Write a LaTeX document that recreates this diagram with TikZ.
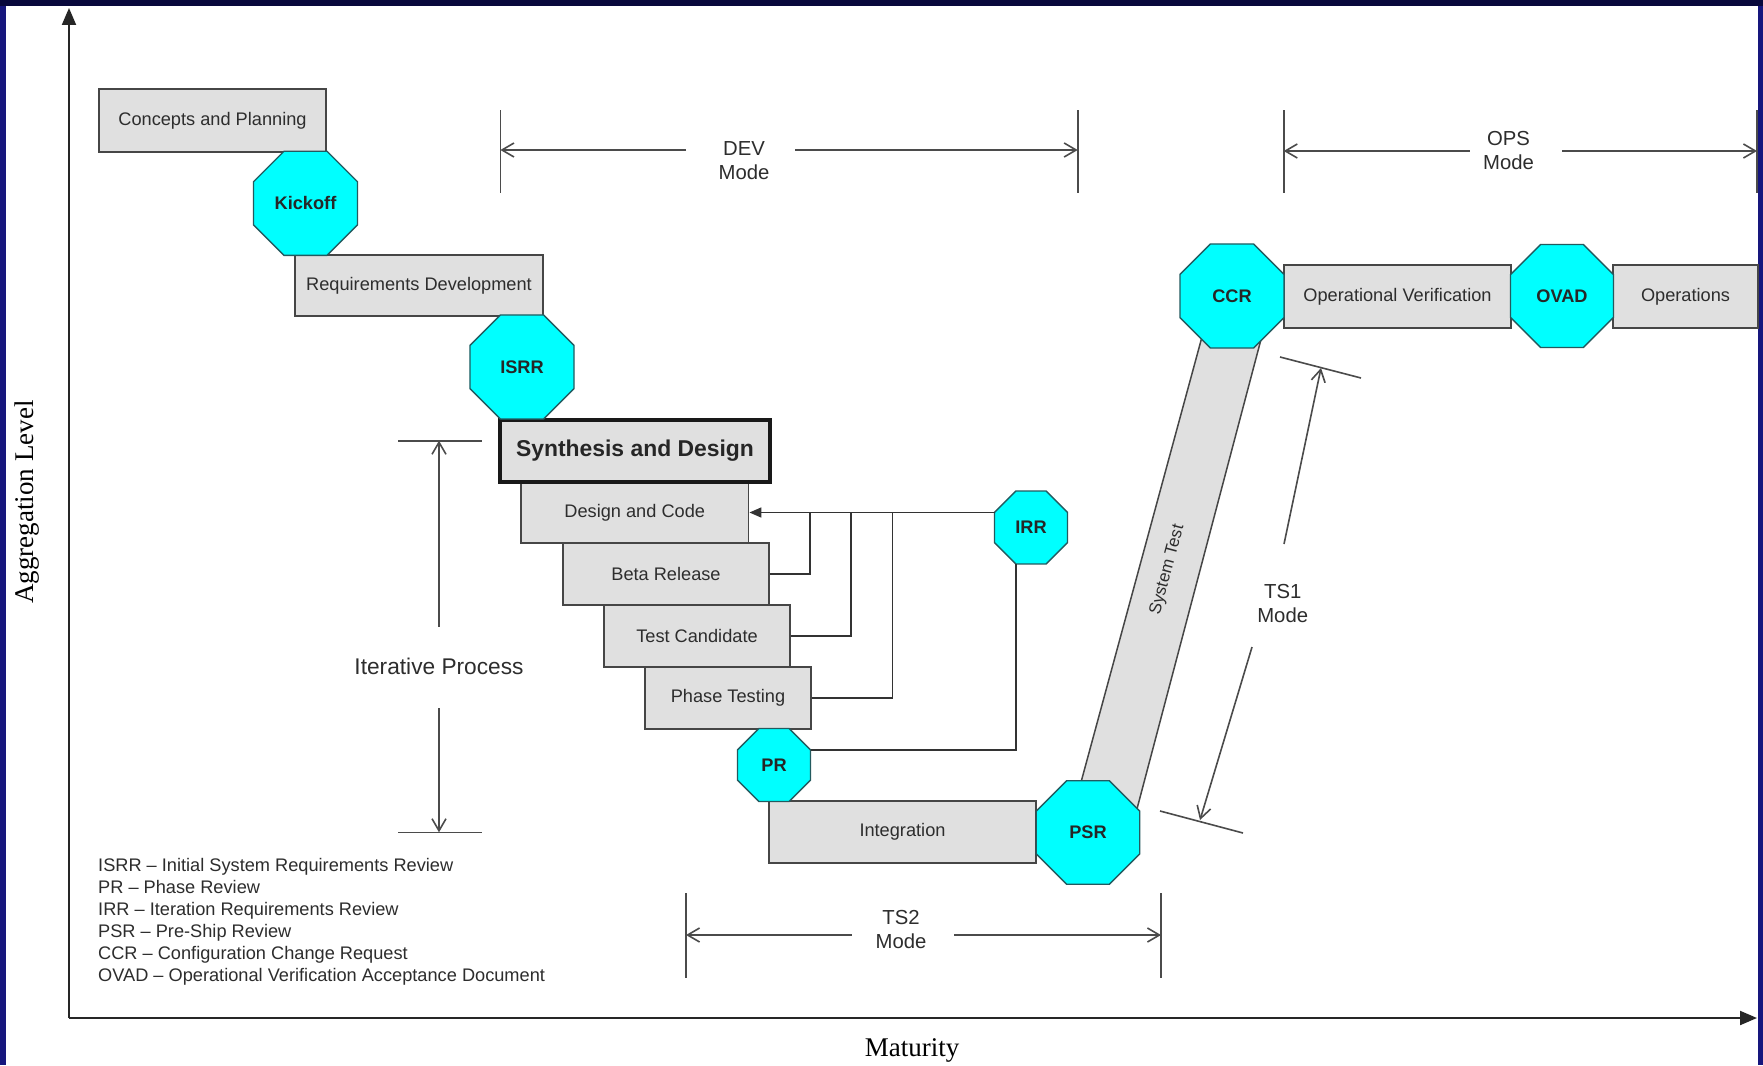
\documentclass[tikz,border=0pt]{standalone}
\usepackage{fontspec}
\setmainfont{Liberation Sans}
\newfontfamily\seriffam{Liberation Serif}
\usetikzlibrary{arrows.meta,shapes.geometric,calc}

\definecolor{navy}{RGB}{22,22,125}
\definecolor{navytop}{RGB}{8,8,60}
\definecolor{boxfill}{RGB}{224,224,224}
\definecolor{boxline}{RGB}{70,70,70}
\definecolor{octfill}{RGB}{0,255,255}
\definecolor{octline}{RGB}{35,90,95}
\definecolor{txt}{RGB}{45,45,45}
\definecolor{dimline}{RGB}{75,75,75}

\begin{document}
\begin{tikzpicture}[x=1pt,y=-1pt,
  box/.style={draw=boxline,line width=1.8pt,fill=boxfill,inner sep=0pt,text=txt,
    font=\fontsize{18.2}{22}\selectfont},
  oct/.style={regular polygon,regular polygon sides=8,draw=octline,line width=1.4pt,
    fill=octfill,inner sep=0pt,outer sep=0pt,text=black!85,font=\bfseries\fontsize{18.2}{22}\selectfont},
  dim/.style={draw=dimline,line width=1.6pt},
  dimarr/.style={dim,-{Straight Barb[length=12pt,width=14pt]}},
  lbl/.style={align=center,text=txt,font=\fontsize{20.3}{24}\selectfont,inner sep=0pt},
  conn/.style={draw=black!80,line width=1.5pt},
  axis/.style={draw=black!85,line width=2pt,-{Triangle[length=17pt,width=14pt]}},
]
\useasboundingbox (0,0) rectangle (1763,1065);
% frame
\fill[navy] (0,0) rectangle (1763,1065);
\fill[navytop] (0,0) rectangle (1763,6);
\fill[white] (6,6) rectangle (1758,1065);

% axes
\coordinate (origin) at (69,1018);
\coordinate (ytop) at (69,8);
\coordinate (xend) at (1757,1018);
\draw[axis] (origin) -- (ytop);
\draw[axis] (origin) -- (xend);
\node[font=\seriffam\fontsize{27}{30}\selectfont,rotate=90] (ylab) at (27,502) {Aggregation Level};
\node[font=\seriffam\fontsize{27}{30}\selectfont] (xlab) at (912,1050) {Maturity};

% system test strip
\path[draw=boxline,line width=1.5pt,fill=boxfill] (1212,300) -- (1271.4,300) -- (1131.4,830) -- (1068,830) -- cycle;
\node[rotate=75,text=txt,inner sep=0pt,font=\fontsize{17}{20}\selectfont] (stlab) at (1167.5,570) {System Test};

% boxes
\node[box,minimum width=227pt,minimum height=63pt] (cp) at (212.5,120.5) {Concepts and Planning};
\node[box,minimum width=248pt,minimum height=61pt] (rd) at (419,285.5) {Requirements Development};
\node[box,minimum width=227.5pt,minimum height=61pt] (dc) at (634.75,512.5) {Design and Code};
\node[box,minimum width=206pt,minimum height=62pt] (br) at (666,574) {Beta Release};
\node[box,minimum width=186pt,minimum height=62pt] (tc) at (697,636) {Test Candidate};
\node[box,minimum width=166pt,minimum height=62pt] (pt) at (728,698) {Phase Testing};
\node[box,line width=3.5pt,draw=black!90,text=black!85,minimum width=270pt,minimum height=62pt,
  font=\bfseries\fontsize{22.9}{26}\selectfont] (sd) at (635,451) {Synthesis and Design};
\node[box,minimum width=267pt,minimum height=62pt] (ig) at (902.5,832) {Integration};
\node[box,minimum width=227pt,minimum height=63pt] (ov) at (1397.5,296.5) {Operational Verification};
\node[box,minimum width=145pt,minimum height=63pt] (op) at (1685.5,296.5) {Operations};

% octagons
\node[oct,minimum size=112.6pt] (ko) at (305.5,203.3) {Kickoff};
\node[oct,minimum size=112.6pt] (isrr) at (522,367) {ISRR};
\node[oct,minimum size=79pt] (pr) at (774,765) {PR};
\node[oct,minimum size=79pt] (irr) at (1031,527.5) {IRR};
\node[oct,minimum size=112pt] (psr) at (1088,832.5) {PSR};
\node[oct,minimum size=112.6pt] (ccr) at (1232,296) {CCR};
\node[oct,minimum size=111.5pt] (ovad) at (1562,296) {OVAD};

% iteration connectors
\draw[conn,-{Triangle[length=12pt,width=10pt]}] (dc.east -| irr.west) -- (dc.east);
\coordinate (j1) at (810,512.5);
\coordinate (j2) at (851,512.5);
\coordinate (j3) at (892.4,512.5);
\draw[conn] (br.east) -| (j1);
\draw[conn] (tc.east) -| (j2);
\draw[conn] (pt.east) -| (j3);
\draw[conn] ($(pr.east)+(0,-15)$) -| ($(irr.south)+(-15,0)$);

% DEV mode
\coordinate (devL) at (500.4,150);
\coordinate (devR) at (1077.7,150);
\coordinate (devgL) at (686,150);
\coordinate (devgR) at (795,150);
\draw[dim] (500.4,110) -- (500.4,193);
\draw[dim] (1077.7,110) -- (1077.7,193);
\draw[dimarr] (devgL) -- (devL);
\draw[dimarr] (devgR) -- (devR);
\node[lbl] (devlab) at (744,161) {DEV\\Mode};

% OPS mode
\coordinate (opsL) at (1283.7,151);
\coordinate (opsR) at (1757,151);
\coordinate (opsgL) at (1469.6,151);
\coordinate (opsgR) at (1562,151);
\draw[dim] (1283.7,110) -- (1283.7,193);
\draw[dim] (1757,110) -- (1757,193);
\draw[dimarr] (opsgL) -- (opsL);
\draw[dimarr] (opsgR) -- (opsR);
\node[lbl] (opslab) at (1508.5,151) {OPS\\Mode};

% TS2 mode
\coordinate (ts2L) at (686,935);
\coordinate (ts2R) at (1161,935);
\coordinate (ts2gL) at (851.5,935);
\coordinate (ts2gR) at (954,935);
\draw[dim] (686,893) -- (686,978);
\draw[dim] (1161,893) -- (1161,978);
\draw[dimarr] (ts2gL) -- (ts2L);
\draw[dimarr] (ts2gR) -- (ts2R);
\node[lbl] (ts2lab) at (901,929.5) {TS2\\Mode};

% TS1 mode
\coordinate (ts1T) at (1321,368);
\coordinate (ts1B) at (1200,820);
\coordinate (ts1gT) at (1284,544);
\coordinate (ts1gB) at (1252,647);
\draw[dim] (1280,357) -- (1361,378);
\draw[dim] (1160,811) -- (1243,833);
\draw[dimarr] (ts1gT) -- (ts1T);
\draw[dimarr] (ts1gB) -- (ts1B);
\node[lbl] (ts1lab) at (1282.7,604) {TS1\\Mode};

% Iterative process
\coordinate (itT) at (439,440.7);
\coordinate (itB) at (439,832.3);
\coordinate (itgT) at (439,626.7);
\coordinate (itgB) at (439,708);
\draw[dim] (398,440.7) -- (481.7,440.7);
\draw[dim] (398,832.3) -- (481.7,832.3);
\draw[dimarr] (itgT) -- (itT);
\draw[dimarr] (itgB) -- (itB);
\node[text=txt,font=\fontsize{22.7}{27}\selectfont,inner sep=0pt] (itlab) at (439,666.7) {Iterative Process};

% legend
\node[anchor=west,align=left,text=txt,inner sep=0pt,font=\fontsize{18.2}{22}\selectfont] (legend) at (98,922) {%
ISRR – Initial System Requirements Review\\
PR – Phase Review\\
IRR – Iteration Requirements Review\\
PSR – Pre-Ship Review\\
CCR – Configuration Change Request\\
OVAD – Operational Verification Acceptance Document};
\end{tikzpicture}
\end{document}
